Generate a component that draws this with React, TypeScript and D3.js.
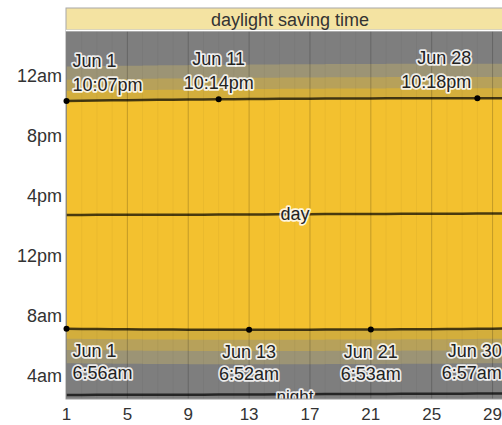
import * as d3 from "d3";

// June, daily sunrise / sunset (local time, DST)
const sunset = [
  "22:07", "22:08", "22:09", "22:10", "22:10", "22:11", "22:12", "22:12", "22:13", "22:13",
  "22:14", "22:14", "22:15", "22:15", "22:16", "22:16", "22:16", "22:17", "22:17", "22:17",
  "22:17", "22:18", "22:18", "22:18", "22:18", "22:18", "22:18", "22:18", "22:18", "22:18",
];
const sunrise = [
  "6:56", "6:55", "6:55", "6:54", "6:54", "6:53", "6:53", "6:53", "6:52", "6:52",
  "6:52", "6:52", "6:52", "6:52", "6:52", "6:52", "6:52", "6:53", "6:53", "6:53",
  "6:53", "6:53", "6:54", "6:54", "6:54", "6:55", "6:55", "6:56", "6:56", "6:57",
];

// twilight length in minutes: civil, nautical, astronomical
const twilightMinutes = [40, 85, 138];
const twilightColors = ["#d3ae3c", "#b7a15a", "#9c9475"];
const dayColor = "#f3c12f";
const nightColor = "#7e7e7e";

const sunsetMarks = [1, 11, 28];
const sunriseMarks = [1, 13, 21, 30];

const xTicks = [1, 5, 9, 13, 17, 21, 25, 29];
const yTicks = [4, 8, 12, 16, 20, 24];
const yTickLabels = ["4am", "8am", "12pm", "4pm", "8pm", "12am"];
const bandTitle = "daylight saving time";
const monthName = "Jun";

const W = 502;
const H = 425;
const left = 66;
const right = 524;
const top = 31;
const bottom = 399;
const bandTop = 8;

const toHours = (s: string) => {
  const [h, m] = s.split(":").map(Number);
  return h + m / 60;
};

const fmt = (s: string) => {
  const [h, m] = s.split(":").map(Number);
  const h12 = h % 12 === 0 ? 12 : h % 12;
  return `${h12}:${String(m).padStart(2, "0")}${h < 12 ? "am" : "pm"}`;
};

type Row = { d: number; rise: number; set: number };

export default function App() {
  const x = d3.scaleLinear().domain([1, 31]).range([66.5, 523]);
  const y = d3.scaleLinear().domain([2.25, 26.79]).range([bottom, top]);

  const rows: Row[] = sunset.map((s, i) => ({
    d: i + 1,
    rise: toHours(sunrise[i]),
    set: toHours(s),
  }));
  const pts: Row[] = [...rows, { ...rows[rows.length - 1], d: 31 }];

  const band = (lo: (p: Row) => number, hi: (p: Row) => number) =>
    d3
      .area<Row>()
      .x((p) => x(p.d))
      .y0((p) => y(lo(p)))
      .y1((p) => y(hi(p)))
      .curve(d3.curveStepAfter)(pts) || "";

  const line = (f: (p: Row) => number) =>
    d3
      .line<Row>()
      .x((p) => x(p.d))
      .y((p) => y(f(p)))(pts) || "";

  const dayMid = (p: Row) => (p.rise + p.set) / 2;
  const nightMid = (p: Row) => (p.set - 24 + p.rise) / 2;
  const midX = (left + right) / 2;
  const midRow = rows[15];

  const font = "'Liberation Sans', Arial, sans-serif";
  const halo = {
    stroke: "#fff",
    strokeWidth: 3.5,
    strokeOpacity: 0.85,
    paintOrder: "stroke" as const,
    strokeLinejoin: "round" as const,
  };

  const anchorFor = (d: number) => (d === 1 ? "start" : d >= 27 ? "end" : "middle");
  const dxFor = (d: number) => (d === 1 ? 6 : d >= 27 ? -6 : 0);

  return (
    <svg
      width={W}
      height={H}
      style={{ position: "absolute", left: 0, top: 0, background: "#fff" }}
      fontFamily={font}
    >
      <defs>
        <clipPath id="plot">
          <rect x={left} y={top} width={right - left} height={bottom - top} />
        </clipPath>
      </defs>

      <g clipPath="url(#plot)">
        <rect x={left} y={top} width={right - left} height={bottom - top} fill={nightColor} />
        {twilightMinutes
          .map((m, k) => ({ m, k }))
          .reverse()
          .map(({ m, k }) => (
            <g key={k}>
              <path d={band((p) => p.set, (p) => p.set + m / 60)} fill={twilightColors[k]} />
              <path d={band((p) => p.rise - m / 60, (p) => p.rise)} fill={twilightColors[k]} />
            </g>
          ))}
        <path d={band((p) => p.rise, (p) => p.set)} fill={dayColor} />

        {d3.range(1, 32).map((d) => (
          <line
            key={d}
            x1={x(d)}
            x2={x(d)}
            y1={top}
            y2={bottom}
            stroke="#000"
            strokeOpacity={xTicks.includes(d) ? 0.2 : 0.04}
          />
        ))}

        {[(p: Row) => p.set, (p: Row) => p.rise, dayMid, nightMid].map((f, i) => (
          <path key={i} d={line(f)} fill="none" stroke="#000" strokeOpacity={0.7} strokeWidth={2.5} />
        ))}

        <text x={midX} y={y(nightMid(midRow)) + 8} textAnchor="middle" fontSize={17} fill="#222" {...halo}>
          night
        </text>
      </g>

      <rect x={left} y={top} width={right - left} height={bottom - top} fill="none" stroke="#9a9a9a" />

      {/* DST band */}
      <rect x={left} y={bandTop} width={right - left} height={top - bandTop - 1} fill="#f4e3a2" stroke="#a8a8a8" />
      <line x1={left} x2={right} y1={top - 0.5} y2={top - 0.5} stroke="#fff" strokeWidth={1.5} />
      <text x={midX - 5} y={bandTop + 18} textAnchor="middle" fontSize={18} fill="#333">
        {bandTitle}
      </text>

      <text x={midX} y={y(dayMid(midRow))} dy="0.32em" textAnchor="middle" fontSize={18} fill="#222" {...halo}>
        day
      </text>

      {sunsetMarks.map((d) => {
        const r = rows[d - 1];
        const yy = y(r.set);
        return (
          <g key={"s" + d}>
            <circle cx={x(d)} cy={yy} r={3} fill="#000" />
            <text x={x(d) + dxFor(d)} y={yy - 34} textAnchor={anchorFor(d)} fontSize={18} fill="#222" {...halo}>
              {`${monthName} ${d}`}
            </text>
            <text x={x(d) + dxFor(d)} y={yy - 10} textAnchor={anchorFor(d)} fontSize={18} fill="#222" {...halo}>
              {fmt(sunset[d - 1])}
            </text>
          </g>
        );
      })}

      {sunriseMarks.map((d) => {
        const r = rows[d - 1];
        const yy = y(r.rise);
        return (
          <g key={"r" + d}>
            <circle cx={x(d)} cy={yy} r={3} fill="#000" />
            <text x={x(d) + dxFor(d)} y={yy + 28} textAnchor={anchorFor(d)} fontSize={18} fill="#222" {...halo}>
              {`${monthName} ${d}`}
            </text>
            <text x={x(d) + dxFor(d)} y={yy + 50} textAnchor={anchorFor(d)} fontSize={18} fill="#222" {...halo}>
              {fmt(sunrise[d - 1])}
            </text>
          </g>
        );
      })}

      {yTicks.map((t, i) => (
        <text key={t} x={62} y={y(t) + 9.5} textAnchor="end" fontSize={18} fill="#333">
          {yTickLabels[i]}
        </text>
      ))}

      {xTicks.map((t) => (
        <text key={t} x={x(t)} y={420} textAnchor="middle" fontSize={17} fill="#333">
          {t}
        </text>
      ))}
    </svg>
  );
}
